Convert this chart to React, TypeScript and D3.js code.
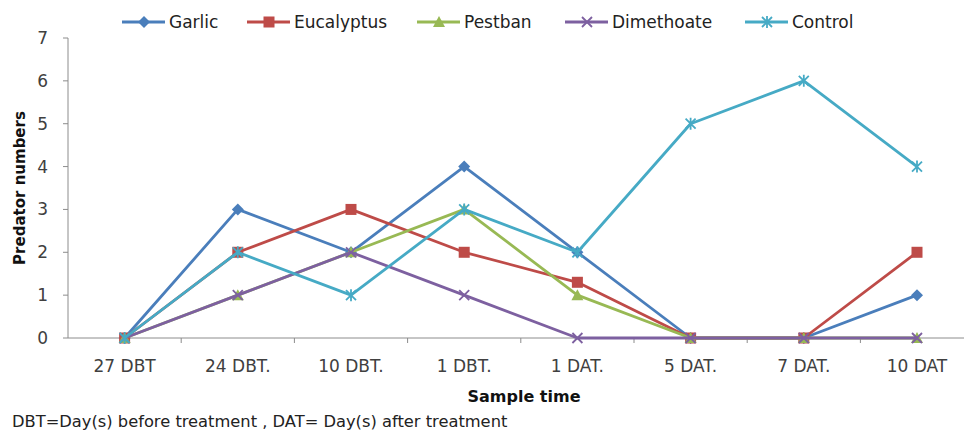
import React, { useEffect, useRef } from 'react';
import * as d3 from 'd3';

const categories = ['27 DBT', '24 DBT.', '10 DBT.', '1 DBT.', '1 DAT.', '5 DAT.', '7 DAT.', '10 DAT'];
const seriesNames = ['Garlic', 'Eucalyptus', 'Pestban', 'Dimethoate', 'Control'];
const garlic = [0, 3, 2, 4, 2, 0, 0, 1];
const eucalyptus = [0, 2, 3, 2, 1.3, 0, 0, 2];
const pestban = [0, 1, 2, 3, 1, 0, 0, 0];
const dimethoate = [0, 1, 2, 1, 0, 0, 0, 0];
const control = [0, 2, 1, 3, 2, 5, 6, 4];
const yTicks = [0, 1, 2, 3, 4, 5, 6, 7];
const colors = ['#4A7EBB', '#BE4B48', '#98B954', '#7D60A0', '#46AAC5'];
const markers = ['diamond', 'square', 'triangle', 'x', 'star'];
const legendX = [122, 247, 417, 565, 745];

const FONT = "'DejaVu Sans', sans-serif";

function drawMarker(g: d3.Selection<SVGGElement, unknown, null, undefined>, type: string, x: number, y: number, color: string) {
  if (type === 'diamond') {
    g.append('path').attr('d', `M${x},${y - 6}L${x + 6},${y}L${x},${y + 6}L${x - 6},${y}Z`).attr('fill', color);
  } else if (type === 'square') {
    g.append('rect').attr('x', x - 5.5).attr('y', y - 5.5).attr('width', 11).attr('height', 11).attr('fill', color);
  } else if (type === 'triangle') {
    g.append('path').attr('d', `M${x},${y - 6}L${x + 6},${y + 5}L${x - 6},${y + 5}Z`).attr('fill', color);
  } else if (type === 'x') {
    g.append('path').attr('d', `M${x - 5},${y - 5}L${x + 5},${y + 5}M${x - 5},${y + 5}L${x + 5},${y - 5}`)
      .attr('stroke', color).attr('stroke-width', 1.8);
  } else {
    g.append('path').attr('d', `M${x - 5},${y - 5}L${x + 5},${y + 5}M${x - 5},${y + 5}L${x + 5},${y - 5}M${x},${y - 6}L${x},${y + 6}`)
      .attr('stroke', color).attr('stroke-width', 1.8);
  }
}

export default function App() {
  const svgRef = useRef<SVGSVGElement>(null);

  useEffect(() => {
    if (!svgRef.current) return;
    const svg = d3.select(svgRef.current);
    svg.selectAll('*').remove();

    const data = [garlic, eucalyptus, pestban, dimethoate, control];
    const left = 68;
    const x = d3.scaleBand<string>().domain(categories).range([left, left + 8 * 113.2]);
    const y = d3.scaleLinear().domain([0, 7]).range([338, 38]);
    const cx = (c: string) => (x(c) as number) + x.bandwidth() / 2;

    const axisColor = '#8c8c8c';

    // y axis
    svg.append('line').attr('x1', left).attr('x2', left).attr('y1', y(7)).attr('y2', y(0))
      .attr('stroke', axisColor).attr('stroke-width', 1);
    yTicks.forEach(t => {
      svg.append('line').attr('x1', left - 5).attr('x2', left).attr('y1', y(t)).attr('y2', y(t))
        .attr('stroke', axisColor);
      svg.append('text').attr('x', 48).attr('y', y(t)).attr('dy', '0.35em')
        .attr('text-anchor', 'end').attr('font-family', FONT).attr('font-size', 17).attr('fill', '#404040')
        .text(t);
    });

    // x axis
    svg.append('line').attr('x1', left).attr('x2', 964).attr('y1', y(0)).attr('y2', y(0))
      .attr('stroke', axisColor);
    categories.forEach((c, i) => {
      const bx = x(c) as number;
      if (i > 0) {
        svg.append('line').attr('x1', bx).attr('x2', bx).attr('y1', y(0)).attr('y2', y(0) + 5)
          .attr('stroke', axisColor);
      }
      svg.append('text').attr('x', cx(c)).attr('y', 366).attr('dy', '0.35em')
        .attr('text-anchor', 'middle').attr('font-family', FONT).attr('font-size', 17).attr('fill', '#404040')
        .text(c);
    });

    // titles
    svg.append('text').attr('transform', 'translate(20,188) rotate(-90)').attr('text-anchor', 'middle')
      .attr('dy', '0.35em')
      .attr('font-family', FONT).attr('font-size', 15).attr('font-weight', 'bold').attr('fill', '#111')
      .text('Predator numbers');
    svg.append('text').attr('x', 524).attr('y', 396).attr('dy', '0.35em').attr('text-anchor', 'middle')
      .attr('font-family', FONT).attr('font-size', 16).attr('font-weight', 'bold').attr('fill', '#111')
      .text('Sample time');
    svg.append('text').attr('x', 12).attr('y', 421).attr('dy', '0.35em')
      .attr('font-family', FONT).attr('font-size', 16.3).attr('fill', '#222')
      .text('DBT=Day(s) before treatment , DAT= Day(s) after treatment');

    // lines
    const line = d3.line<number>().x((_, i) => cx(categories[i])).y(d => y(d));
    data.forEach((vals, si) => {
      const g = svg.append('g');
      g.append('path').attr('d', line(vals)).attr('fill', 'none')
        .attr('stroke', colors[si]).attr('stroke-width', 2.8).attr('stroke-linejoin', 'round');
      vals.forEach((v, i) => drawMarker(g, markers[si], cx(categories[i]), y(v), colors[si]));
    });

    // legend
    seriesNames.forEach((name, i) => {
      const g = svg.append('g');
      const lx = legendX[i];
      g.append('line').attr('x1', lx).attr('x2', lx + 43).attr('y1', 22).attr('y2', 22)
        .attr('stroke', colors[i]).attr('stroke-width', 2.8);
      drawMarker(g, markers[i], lx + 22, 22, colors[i]);
      g.append('text').attr('x', lx + 47).attr('y', 22).attr('dy', '0.35em')
        .attr('font-family', FONT).attr('font-size', 17).attr('fill', '#222').text(name);
    });
  }, []);

  return <svg ref={svgRef} width={964} height={430} style={{ position: 'absolute', left: 0, top: 0, background: '#fff' }} />;
}
